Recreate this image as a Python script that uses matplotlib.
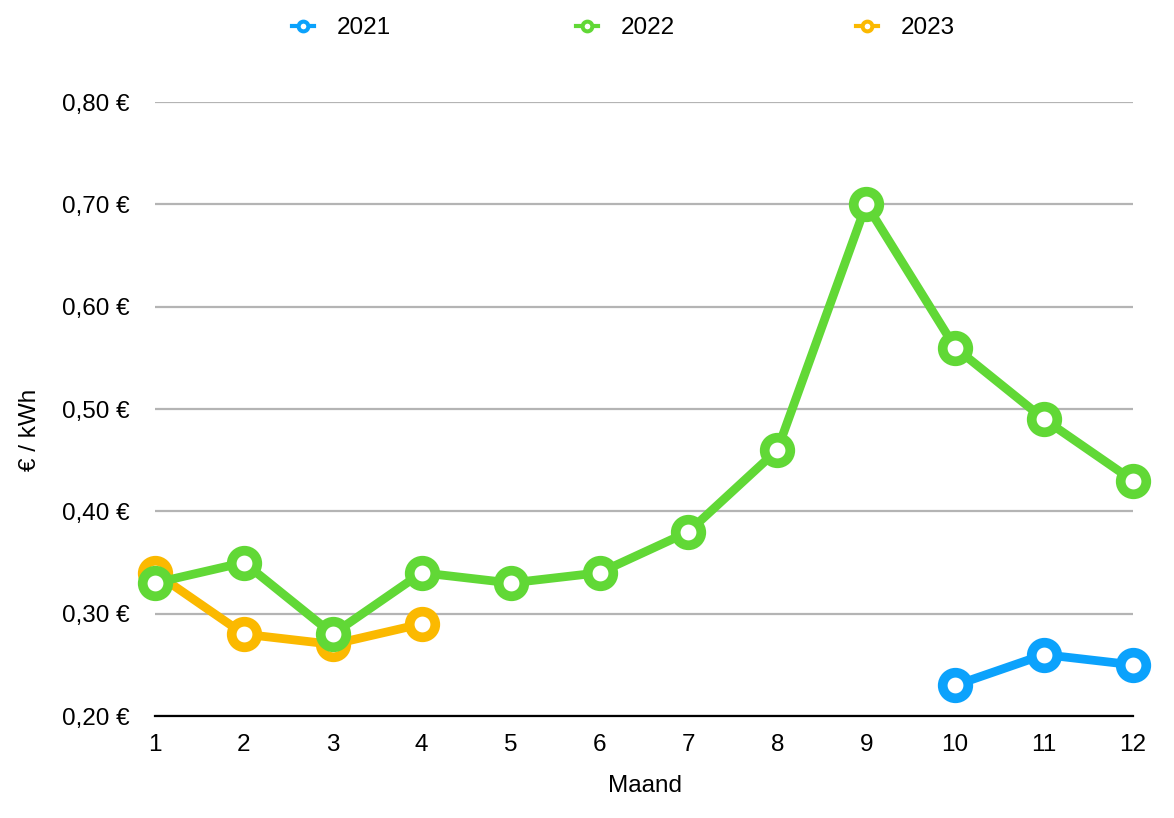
import matplotlib
matplotlib.use("Agg")
import matplotlib.pyplot as plt
from matplotlib.ticker import FuncFormatter
from matplotlib.lines import Line2D

plt.rcParams['font.family'] = ['Liberation Sans', 'DejaVu Sans']

months = list(range(1, 13))
m2021 = [10, 11, 12]
v2021 = [0.23, 0.26, 0.25]
m2022 = list(range(1, 13))
v2022 = [0.33, 0.35, 0.28, 0.34, 0.33, 0.34, 0.38, 0.46, 0.70, 0.56, 0.49, 0.43]
m2023 = [1, 2, 3, 4]
v2023 = [0.34, 0.28, 0.27, 0.29]
yticks = [0.2, 0.3, 0.4, 0.5, 0.6, 0.7, 0.8]

c2021 = '#0BA2FC'
c2022 = '#61D836'
c2023 = '#FBB900'

FS = 17.5
W, H = 1174, 818
fig = plt.figure(figsize=(W / 100, H / 100), dpi=100)
ax = fig.add_axes([155 / W, 1 - 716 / H, (1133 - 155) / W, (716 - 102) / H])

ms = 18.4
mew = 7.0
lw = 6.3
series = [(m2023, v2023, c2023, '2023', 3), (m2022, v2022, c2022, '2022', 4), (m2021, v2021, c2021, '2021', 5)]
for x, y, c, lab, z in series:
    ax.plot(x, y, color=c, lw=lw, marker='o', ms=ms, mew=mew, mfc='white', mec=c,
            zorder=z, clip_on=False, label=lab, solid_capstyle='round', solid_joinstyle='round')

ax.set_xlim(1, 12)
ax.set_ylim(0.2, 0.8)
ax.set_xticks(months)
ax.set_yticks(yticks)
ax.yaxis.set_major_formatter(FuncFormatter(lambda v, p: f"{v:.2f}".replace('.', ',') + " €"))
ax.grid(axis='y', color='#b4b4b4', lw=1.6)
ax.set_axisbelow(True)
for s in ['top', 'right', 'left']:
    ax.spines[s].set_visible(False)
ax.spines['bottom'].set_color('black')
ax.spines['bottom'].set_linewidth(1.6)
ax.spines['bottom'].set_zorder(2)
ax.tick_params(axis='both', length=0, labelsize=FS, colors='black')
ax.tick_params(axis='y', pad=18)
ax.tick_params(axis='x', pad=13)

fig.text(645 / W, 1 - 786 / H, 'Maand', ha='center', va='center', fontsize=FS)
fig.text(30 / W, 1 - 430 / H, '€ / kWh', ha='center', va='center', fontsize=FS, rotation=90)

for lab, c, xm in [('2021', c2021, 303), ('2022', c2022, 587), ('2023', c2023, 867)]:
    h = Line2D([(xm - 11) / W, (xm + 11) / W], [1 - 26 / H] * 2, transform=fig.transFigure,
               color=c, lw=3)
    fig.add_artist(h)
    m = Line2D([xm / W], [1 - 26 / H], transform=fig.transFigure, marker='o', ms=7, mew=2.9,
               mfc='white', mec=c, lw=0)
    fig.add_artist(m)
    fig.text((xm + 34) / W, 1 - 28 / H, lab, ha='left', va='center', fontsize=FS)

fig.savefig('out.png', dpi=100)
